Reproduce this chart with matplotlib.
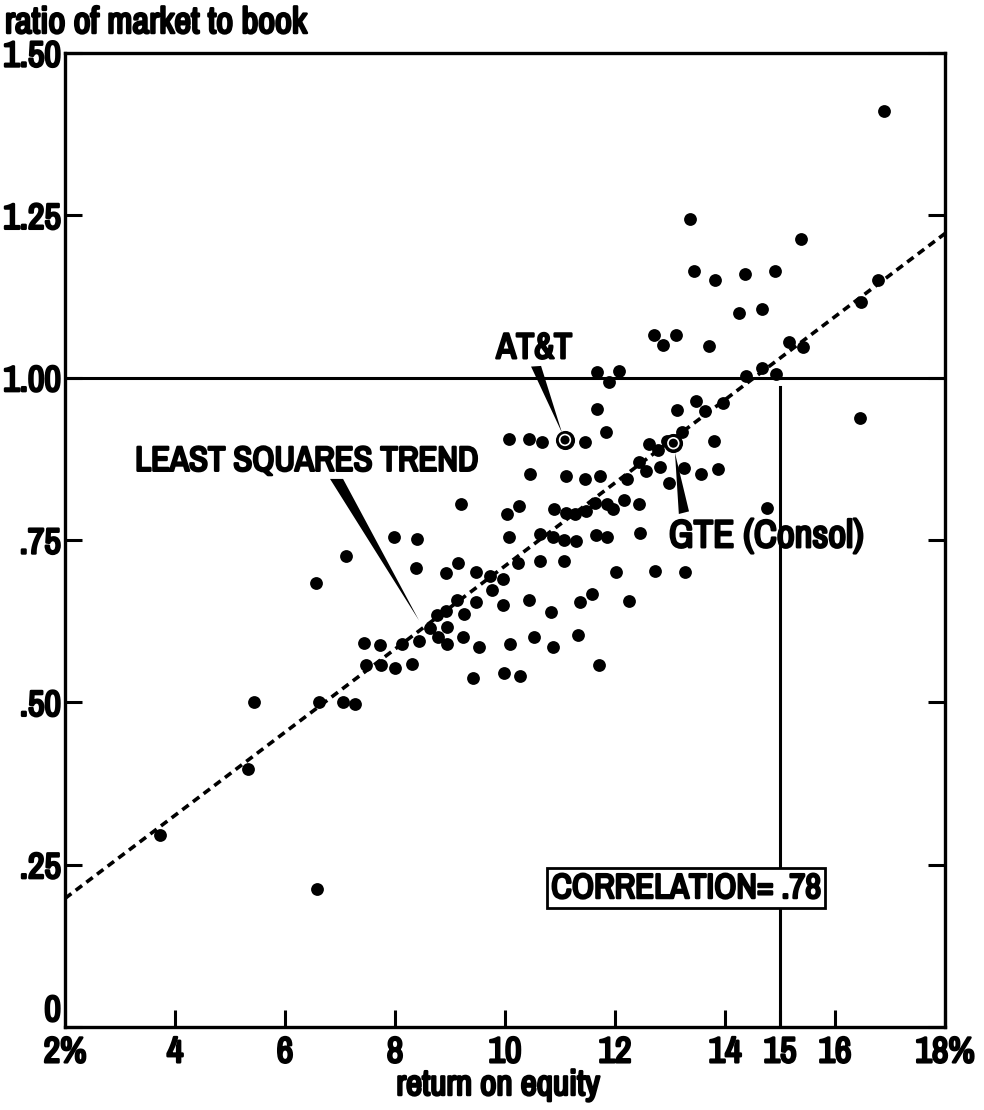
import matplotlib
matplotlib.use("Agg")
import matplotlib.pyplot as plt
import matplotlib.font_manager as fm
import matplotlib.patheffects as pe
from matplotlib.patches import Polygon

# the chart lettering is a heavy condensed sans: narrow face + a stroke
narrow = sorted({f.name for f in fm.fontManager.ttflist
                 if 'Narrow' in f.name or 'Condensed' in f.name})
if 'Liberation Sans Narrow' in narrow:
    face = 'Liberation Sans Narrow'
elif narrow:
    face = narrow[0]
else:
    face = 'DejaVu Sans'
plt.rcParams['font.family'] = [face, 'DejaVu Sans']
heavy = [pe.withStroke(linewidth=1.8, foreground='black')]

# return on equity (%) and ratio of market to book
roe = [3.72, 5.32, 5.44, 6.59, 6.57, 6.62, 7.06, 7.28, 7.10, 7.98,
       8.40, 8.39, 7.44, 7.72, 7.47, 7.75, 8.00, 8.30, 8.12, 8.44,
       8.64, 8.76, 8.92, 8.94, 8.78, 8.94, 9.24, 9.25, 8.92, 9.14,
       9.20, 9.13, 9.47, 9.47, 9.53, 9.42, 9.73, 9.76, 9.96, 9.97,
       10.09, 9.98, 10.28, 10.24, 10.07, 10.03, 10.26, 10.08, 10.44, 10.67,
       11.45, 10.45, 11.10, 11.46, 10.44, 10.52, 10.64, 10.64, 10.88, 10.89,
       11.10, 11.27, 11.47, 11.08, 11.29, 11.07, 10.84, 10.87, 11.33, 11.36,
       11.59, 11.71, 11.64, 11.85, 11.97, 12.17, 12.44, 11.65, 11.86, 12.46,
       12.02, 12.73, 13.28, 12.26, 11.73, 12.21, 12.44, 12.56, 12.81, 12.99,
       13.26, 13.56, 13.88, 11.84, 11.68, 12.62, 12.79, 12.95, 13.21, 13.80,
       13.13, 13.48, 13.64, 13.97, 11.68, 11.89, 12.08, 12.70, 12.87, 13.10,
       13.71, 13.36, 13.44, 13.81, 14.37, 14.90, 14.25, 14.67, 15.38, 15.16,
       15.42, 14.38, 14.68, 14.92, 14.76, 16.46, 16.48, 16.78, 16.89]
mtb = [0.296, 0.397, 0.500, 0.212, 0.683, 0.500, 0.501, 0.498, 0.725, 0.755,
       0.752, 0.707, 0.591, 0.589, 0.557, 0.557, 0.553, 0.559, 0.590, 0.594,
       0.614, 0.635, 0.641, 0.616, 0.600, 0.590, 0.600, 0.636, 0.699, 0.714,
       0.806, 0.657, 0.701, 0.654, 0.585, 0.537, 0.694, 0.673, 0.690, 0.650,
       0.590, 0.545, 0.541, 0.714, 0.754, 0.790, 0.802, 0.906, 0.906, 0.901,
       0.901, 0.852, 0.848, 0.844, 0.658, 0.601, 0.718, 0.759, 0.755, 0.797,
       0.791, 0.790, 0.794, 0.750, 0.748, 0.717, 0.639, 0.585, 0.604, 0.655,
       0.667, 0.557, 0.807, 0.806, 0.797, 0.812, 0.806, 0.758, 0.755, 0.761,
       0.701, 0.702, 0.701, 0.656, 0.849, 0.844, 0.870, 0.856, 0.862, 0.837,
       0.861, 0.851, 0.859, 0.916, 0.951, 0.898, 0.888, 0.902, 0.916, 0.902,
       0.950, 0.964, 0.948, 0.961, 1.008, 0.994, 1.010, 1.066, 1.050, 1.065,
       1.048, 1.245, 1.164, 1.151, 1.159, 1.164, 1.100, 1.106, 1.214, 1.055,
       1.047, 1.002, 1.015, 1.005, 0.799, 0.938, 1.117, 1.151, 1.411]

named = ['AT&T', 'GTE (Consol)']
named_roe = [11.09, 13.06]
named_mtb = [0.904, 0.899]

trend_x = [2.0, 18.0]
trend_y = [0.198, 1.222]

xticks = [2, 4, 6, 8, 10, 12, 14, 15, 16, 18]
xlabels = ['2%', '4', '6', '8', '10', '12', '14', '15', '16', '18%']
yticks = [0, 0.25, 0.50, 0.75, 1.00, 1.25, 1.50]
ylabels = ['0', '.25', '.50', '.75', '1.00', '1.25', '1.50']

fig = plt.figure(figsize=(9.84, 11.10), dpi=100)
ax = fig.add_axes([0.0661, 0.0748, 0.8943, 0.8775])
ax.set_xlim(2, 18)
ax.set_ylim(0, 1.5)

for s in ax.spines.values():
    s.set_linewidth(2.4)

ax.set_xticks(xticks)
ax.set_xticklabels(xlabels)
ax.set_yticks(yticks)
ax.set_yticklabels(ylabels)
ax.tick_params(axis='both', direction='in', length=12, width=2.2,
               labelsize=26, right=True, top=False)
ax.tick_params(axis='x', pad=6)
ax.tick_params(axis='y', pad=3)
ax.get_yticklabels()[0].set_va('bottom')
for lbl in ax.get_xticklabels() + ax.get_yticklabels():
    lbl.set_path_effects(heavy)

# reference lines
ax.axhline(1.0, color='black', lw=2.2)
ax.plot([15, 15], [0, 0.985], color='black', lw=2.2)

# least squares trend
ax.plot(trend_x, trend_y, color='black', lw=2.6, ls=(0, (2.2, 1.5)))

ax.scatter(roe, mtb, s=85, color='black', zorder=3, linewidths=0)

# circled companies
ax.scatter(named_roe, named_mtb, s=190, color='black', zorder=4, linewidths=0)
ax.scatter(named_roe, named_mtb, s=60, facecolor='none', edgecolor='white',
           linewidths=1.2, zorder=5)

# labels with wedge pointers
ax.text(6.39, 0.872, 'LEAST SQUARES TREND', fontsize=25, ha='center',
        va='center', path_effects=heavy)
ax.add_patch(Polygon([[6.818, 0.844], [7.055, 0.844], [8.436, 0.626]],
                     closed=True, color='black', lw=0))
ax.text(10.53, 1.046, named[0], fontsize=26, ha='center', va='center',
        path_effects=heavy)
ax.add_patch(Polygon([[10.473, 1.017], [10.655, 1.018], [11.036, 0.915]],
                     closed=True, color='black', lw=0))
ax.text(14.75, 0.755, named[1], fontsize=28, ha='center', va='center',
        path_effects=heavy)
ax.add_patch(Polygon([[13.09, 0.884], [13.16, 0.790], [13.345, 0.794]],
                     closed=True, color='black', lw=0))

ax.text(13.29, 0.214, 'CORRELATION= .78', fontsize=25, ha='center',
        va='center', zorder=6, path_effects=heavy,
        bbox=dict(boxstyle='square,pad=0.12', facecolor='white',
                  edgecolor='black', linewidth=2))

fig.text(0.005, 1 - 33 / 1110, 'ratio of market to book', fontsize=26.5,
         ha='left', va='baseline', path_effects=heavy)
fig.text(498 / 984, 1 - 1095 / 1110, 'return on equity', fontsize=25.5,
         ha='center', va='baseline', path_effects=heavy)

fig.savefig('out.png', dpi=100)
